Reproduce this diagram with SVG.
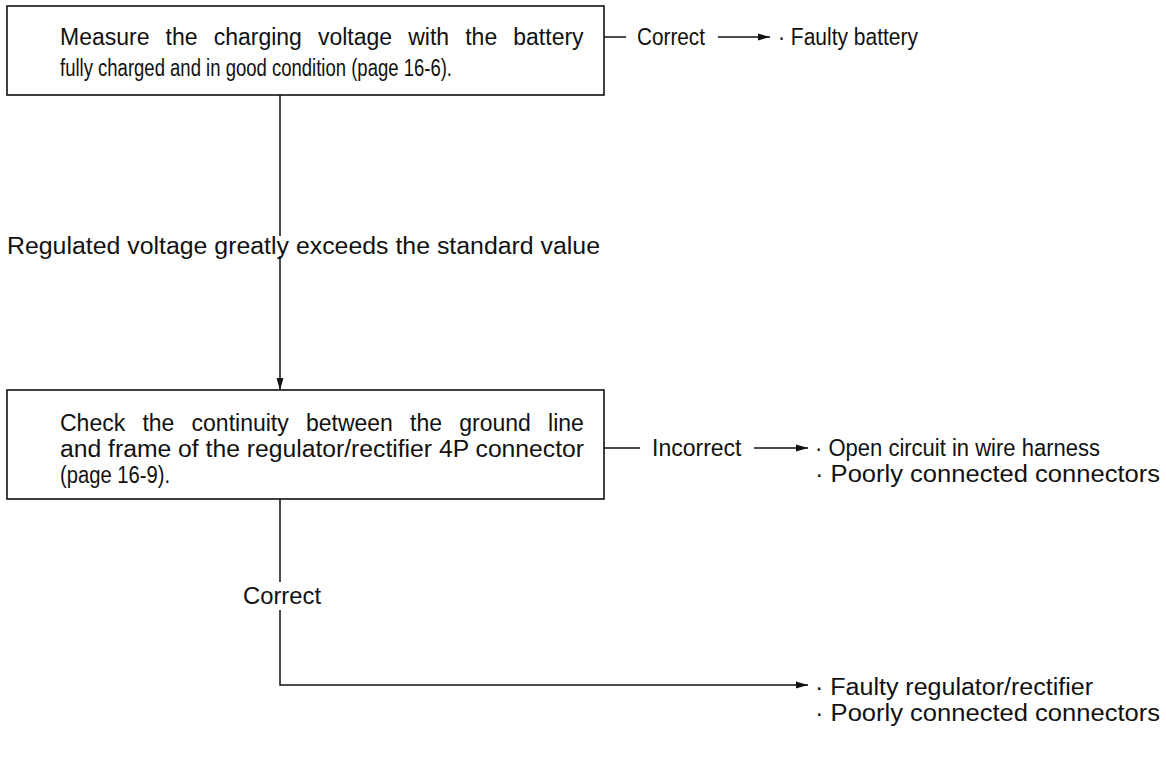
<svg xmlns="http://www.w3.org/2000/svg" width="1166" height="758" viewBox="0 0 1166 758">
  <style>
    text { font-family: "Liberation Sans", Arial, sans-serif; font-size: 23px; fill: #111; }
    .box { fill: #fff; stroke: #111; stroke-width: 1.6; }
    .ln { fill: none; stroke: #111; stroke-width: 1.5; }
  </style>
  <defs>
    <marker id="arr" viewBox="0 0 12 8" refX="12" refY="4" markerWidth="12" markerHeight="8" markerUnits="userSpaceOnUse" orient="auto">
      <path d="M0,0.5 L12,4 L0,7.5 Z" fill="#111"/>
    </marker>
  </defs>
  <rect width="1166" height="758" fill="#fff"/>

  <g id="connectors">
    <line class="ln" x1="604" y1="37" x2="626" y2="37"/>
    <line class="ln" x1="718" y1="37" x2="770" y2="37" marker-end="url(#arr)"/>
    <line class="ln" x1="280" y1="95" x2="280" y2="236"/>
    <line class="ln" x1="280" y1="256" x2="280" y2="390" marker-end="url(#arr)"/>
    <line class="ln" x1="604" y1="448" x2="640" y2="448"/>
    <line class="ln" x1="754" y1="448" x2="808" y2="448" marker-end="url(#arr)"/>
    <line class="ln" x1="280" y1="499" x2="280" y2="582"/>
    <polyline class="ln" points="280,610 280,685 808,685" marker-end="url(#arr)"/>
  </g>

  <g id="node-measure">
    <rect class="box" x="7" y="6" width="597" height="89"/>
    <text x="60" y="45" word-spacing="9.7">Measure the charging voltage with the battery</text>
    <text x="60" y="76" textLength="392" lengthAdjust="spacingAndGlyphs">fully charged and in good condition (page 16-6).</text>
  </g>

  <g id="label-correct-1">
    <text x="637" y="45" textLength="68" lengthAdjust="spacingAndGlyphs">Correct</text>
  </g>
  <g id="node-faulty-battery">
    <text x="778" y="45" textLength="140" lengthAdjust="spacingAndGlyphs">· Faulty battery</text>
  </g>

  <g id="label-regulated">
    <text x="7" y="254" textLength="593" lengthAdjust="spacingAndGlyphs">Regulated voltage greatly exceeds the standard value</text>
  </g>

  <g id="node-check">
    <rect class="box" x="7" y="390" width="597" height="109"/>
    <text x="60" y="431" word-spacing="10.8">Check the continuity between the ground line</text>
    <text x="60" y="457" textLength="524" lengthAdjust="spacingAndGlyphs">and frame of the regulator/rectifier 4P connector</text>
    <text x="60" y="483" textLength="110" lengthAdjust="spacingAndGlyphs">(page 16-9).</text>
  </g>

  <g id="label-incorrect">
    <text x="652" y="456">Incorrect</text>
  </g>
  <g id="node-open-circuit">
    <text x="815" y="456" textLength="285" lengthAdjust="spacingAndGlyphs">· Open circuit in wire harness</text>
    <text x="815" y="482" textLength="345" lengthAdjust="spacingAndGlyphs">· Poorly connected connectors</text>
  </g>

  <g id="label-correct-2">
    <text x="243" y="604" textLength="78" lengthAdjust="spacingAndGlyphs">Correct</text>
  </g>
  <g id="node-faulty-regulator">
    <text x="815" y="695" textLength="278" lengthAdjust="spacingAndGlyphs">· Faulty regulator/rectifier</text>
    <text x="815" y="721" textLength="345" lengthAdjust="spacingAndGlyphs">· Poorly connected connectors</text>
  </g>
</svg>
